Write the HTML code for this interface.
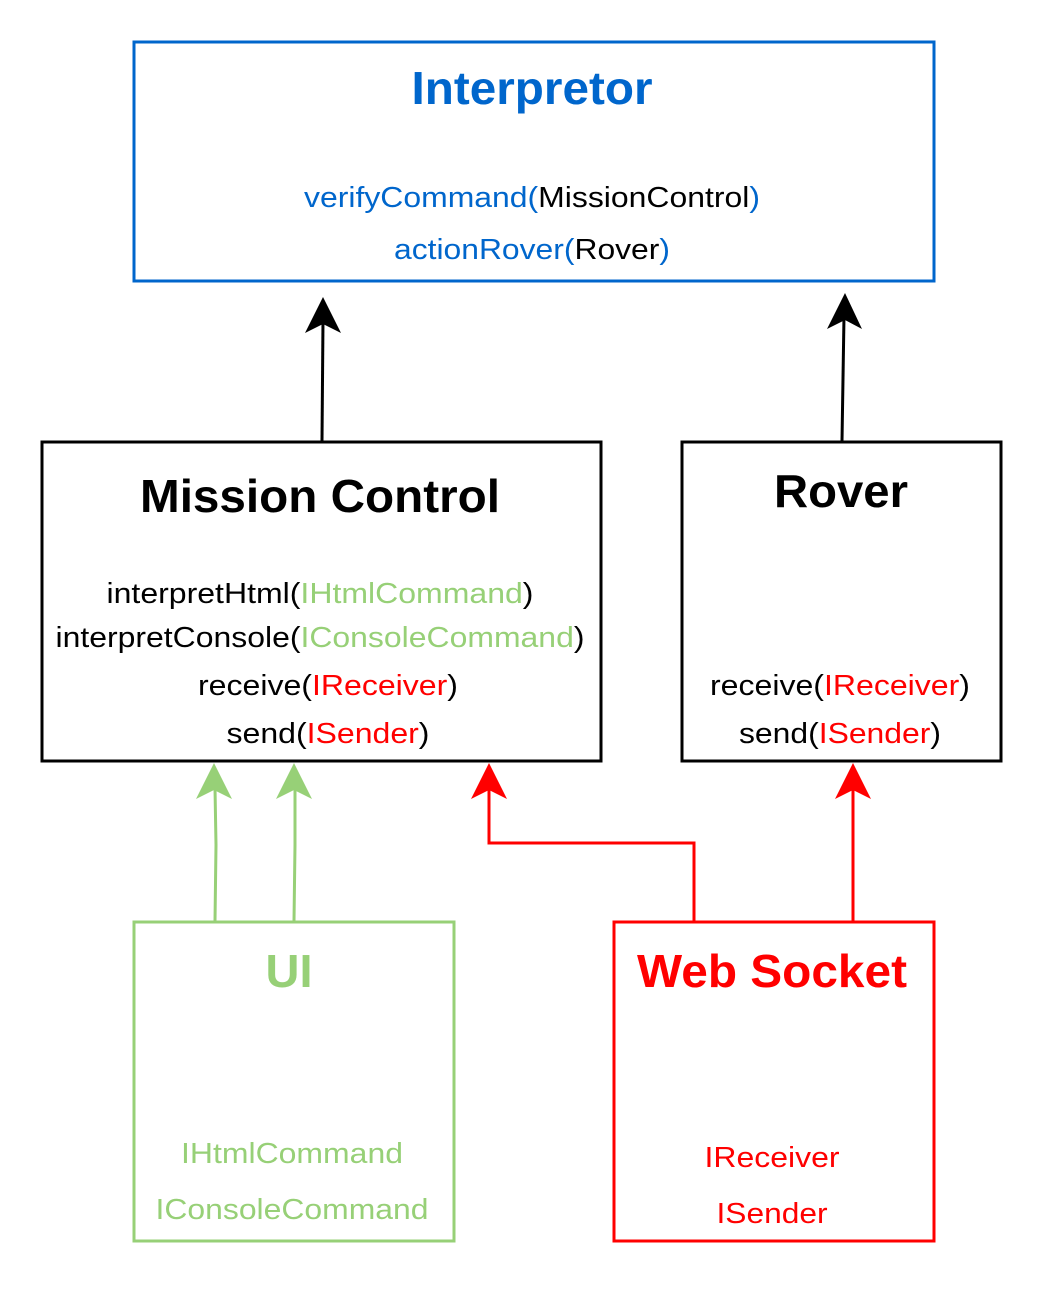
<!DOCTYPE html>
<html><head><meta charset="utf-8"><style>
body{margin:0;background:#fff;}
svg text{font-family:"Liberation Sans",Arial,sans-serif;}
</style></head><body>
<svg width="1044" height="1284" xmlns="http://www.w3.org/2000/svg">
<rect width="1044" height="1284" fill="#fff"/>
<g fill="none" stroke-width="3">
<rect x="134" y="42" width="800" height="239" stroke="#0066CC"/>
<rect x="42" y="442" width="559" height="319" stroke="#000"/>
<rect x="682" y="442" width="319" height="319" stroke="#000"/>
<rect x="134" y="922" width="320" height="319" stroke="#97D077"/>
<rect x="614" y="922" width="320" height="319" stroke="#FF0000"/>
<path d="M322 441 L323 320" stroke="#000"/>
<path d="M842 441 L844 316" stroke="#000"/>
<path d="M215 921 L216 845 L215 788" stroke="#97D077"/>
<path d="M294 921 L295 845 L295 788" stroke="#97D077"/>
<path d="M694 921 L694 843 L489 843 L489 788" stroke="#FF0000"/>
<path d="M853 921 L853 788" stroke="#FF0000"/>
</g>
<polygon points="323,297 341,333 323,324 305,333" fill="#000"/>
<polygon points="845,293 862,329 845,320 827,329" fill="#000"/>
<polygon points="214,763 232,799 214,790 196,799" fill="#97D077"/>
<polygon points="294,763 312,799 294,790 276,799" fill="#97D077"/>
<polygon points="489,763 507,799 489,790 471,799" fill="#FF0000"/>
<polygon points="853,763 871,799 853,790 835,799" fill="#FF0000"/>
<g text-anchor="middle" lengthAdjust="spacingAndGlyphs">
<text x="532" y="104" font-size="46" font-weight="bold" fill="#0066CC" textLength="241" lengthAdjust="spacingAndGlyphs">Interpretor</text>
<text x="532" y="207" font-size="29" fill="#0066CC" textLength="456" lengthAdjust="spacingAndGlyphs">verifyCommand(<tspan fill="#000">MissionControl</tspan>)</text>
<text x="532" y="259" font-size="29" fill="#0066CC" textLength="276" lengthAdjust="spacingAndGlyphs">actionRover(<tspan fill="#000">Rover</tspan>)</text>
<text x="320" y="512" font-size="46" font-weight="bold" textLength="360" lengthAdjust="spacingAndGlyphs">Mission Control</text>
<text x="320" y="603" font-size="29" textLength="427" lengthAdjust="spacingAndGlyphs">interpretHtml(<tspan fill="#97D077">IHtmlCommand</tspan>)</text>
<text x="320" y="647" font-size="29" textLength="529" lengthAdjust="spacingAndGlyphs">interpretConsole(<tspan fill="#97D077">IConsoleCommand</tspan>)</text>
<text x="328" y="695" font-size="29" textLength="260" lengthAdjust="spacingAndGlyphs">receive(<tspan fill="#FF0000">IReceiver</tspan>)</text>
<text x="328" y="743" font-size="29" textLength="203" lengthAdjust="spacingAndGlyphs">send(<tspan fill="#FF0000">ISender</tspan>)</text>
<text x="841" y="507" font-size="46" font-weight="bold" textLength="134" lengthAdjust="spacingAndGlyphs">Rover</text>
<text x="840" y="695" font-size="29" textLength="260" lengthAdjust="spacingAndGlyphs">receive(<tspan fill="#FF0000">IReceiver</tspan>)</text>
<text x="840" y="743" font-size="29" textLength="202" lengthAdjust="spacingAndGlyphs">send(<tspan fill="#FF0000">ISender</tspan>)</text>
<text x="289" y="987" font-size="46" font-weight="bold" fill="#97D077" textLength="47" lengthAdjust="spacingAndGlyphs">UI</text>
<text x="292" y="1163" font-size="29" fill="#97D077" textLength="222" lengthAdjust="spacingAndGlyphs">IHtmlCommand</text>
<text x="292" y="1219" font-size="29" fill="#97D077" textLength="273" lengthAdjust="spacingAndGlyphs">IConsoleCommand</text>
<text x="772" y="987" font-size="46" font-weight="bold" fill="#FF0000" textLength="270" lengthAdjust="spacingAndGlyphs">Web Socket</text>
<text x="772" y="1167" font-size="29" fill="#FF0000" textLength="135" lengthAdjust="spacingAndGlyphs">IReceiver</text>
<text x="772" y="1223" font-size="29" fill="#FF0000" textLength="111" lengthAdjust="spacingAndGlyphs">ISender</text>
</g>
</svg>
</body></html>
